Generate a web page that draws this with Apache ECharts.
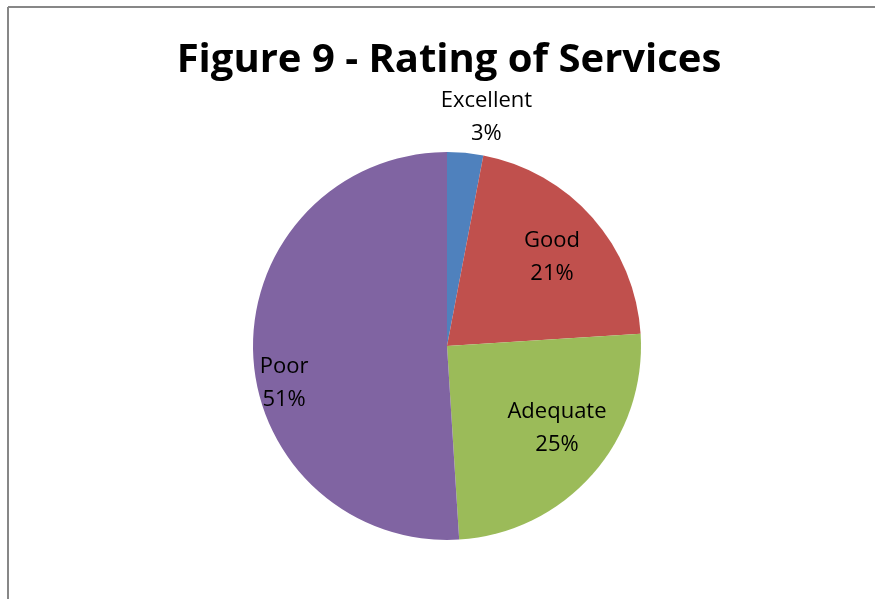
<!DOCTYPE html>
<html>
<head>
<meta charset="utf-8">
<script src="https://cdn.jsdelivr.net/npm/echarts@6/dist/echarts.min.js"></script>
<style>
  html, body { margin: 0; padding: 0; background: #fff; }
  #chart { width: 875px; height: 599px; }
</style>
</head>
<body>
<div id="chart"></div>
<script>
// Service rating shares (percent)
const categories = ['Excellent', 'Good', 'Adequate', 'Poor'];
const shares = [3, 21, 25, 51];
const sliceColors = ['#4F81BD', '#C0504D', '#9BBB59', '#8064A2'];

// Label nudges away from the default inside position
const labelShift = {
  Excellent: [30, -129],
  Good: [30, -23],
  Adequate: [35, 16],
  Poor: [-63, 34]
};

const chart = echarts.init(document.getElementById('chart'), null, { renderer: 'canvas' });

chart.setOption({
  animation: false,
  backgroundColor: '#ffffff',
  title: {
    text: 'Figure 9 - Rating of Services',
    left: 444,
    textAlign: 'center',
    top: 36,
    textStyle: {
      fontFamily: 'Open Sans',
      fontWeight: 'bold',
      fontSize: 40,
      color: '#000'
    }
  },
  graphic: [
    { type: 'line', shape: { x1: 8, y1: 7, x2: 875, y2: 7 }, style: { stroke: '#878787', lineWidth: 2 } },
    { type: 'line', shape: { x1: 8, y1: 7, x2: 8, y2: 599 }, style: { stroke: '#878787', lineWidth: 2 } }
  ],
  series: [{
    type: 'pie',
    center: [447, 346],
    radius: [0, 194],
    startAngle: 90,
    clockwise: true,
    avoidLabelOverlap: false,
    itemStyle: { borderWidth: 0 },
    label: {
      show: true,
      position: 'inside',
      formatter: p => p.name + '\n' + p.value + '%',
      fontFamily: 'Open Sans',
      fontSize: 22,
      lineHeight: 33,
      color: '#000'
    },
    labelLine: { show: false },
    labelLayout: params => {
      const s = labelShift[categories[params.dataIndex]];
      return { dx: s[0], dy: s[1] };
    },
    emphasis: { disabled: true },
    data: categories.map((name, i) => ({
      name: name,
      value: shares[i],
      itemStyle: { color: sliceColors[i] }
    }))
  }]
});
</script>
</body>
</html>
